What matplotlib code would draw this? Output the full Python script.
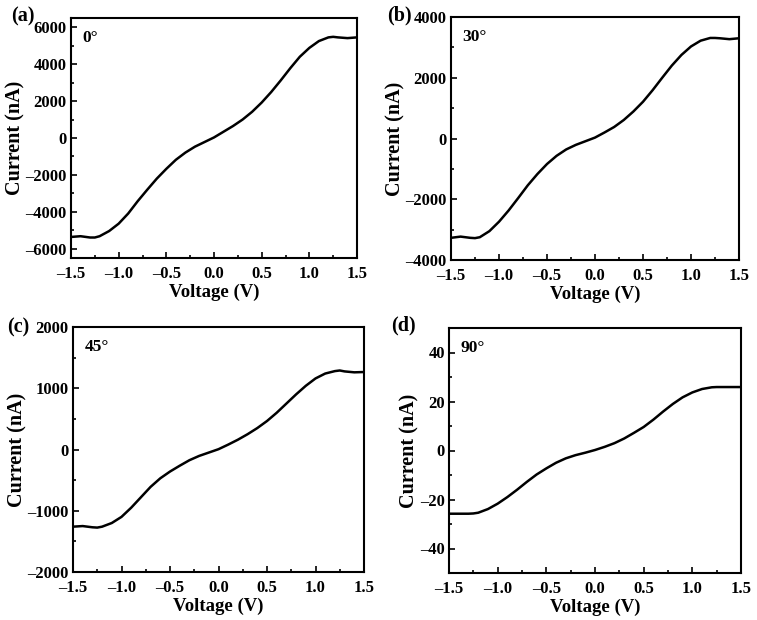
import matplotlib
matplotlib.use("Agg")
import matplotlib.pyplot as plt
from matplotlib.ticker import MultipleLocator, AutoMinorLocator, FuncFormatter

plt.rcParams['font.family'] = ['Liberation Serif', 'DejaVu Serif']
plt.rcParams['font.weight'] = 'bold'

# bias voltage (V)
voltage = [-1.5, -1.4, -1.3, -1.25, -1.2, -1.1, -1.0, -0.9, -0.8, -0.7, -0.6,
           -0.5, -0.4, -0.3, -0.2, -0.1, 0.0, 0.1, 0.2, 0.3, 0.4, 0.5, 0.6,
           0.7, 0.8, 0.9, 1.0, 1.1, 1.2, 1.25, 1.3, 1.4, 1.5]

# current (nA) for each angle
cur_0 = [-5360, -5320, -5390, -5390, -5320, -5040, -4640, -4090, -3420, -2800, -2200,
         -1670, -1180, -790, -470, -220, 30, 340, 650, 1000, 1420, 1920, 2490,
         3120, 3780, 4400, 4880, 5250, 5450, 5480, 5450, 5410, 5450]
cur_30 = [-3270, -3230, -3270, -3280, -3250, -3050, -2740, -2370, -1960, -1540, -1170,
          -840, -570, -360, -210, -90, 30, 200, 380, 610, 890, 1210, 1590,
          2000, 2400, 2750, 3030, 3220, 3310, 3310, 3300, 3270, 3300]
cur_45 = [-1260, -1250, -1270, -1275, -1260, -1200, -1100, -950, -780, -610, -470,
          -360, -265, -175, -105, -50, 5, 80, 160, 250, 350, 465, 600,
          750, 900, 1040, 1160, 1240, 1280, 1290, 1275, 1260, 1265]
cur_90 = [-25.8, -25.8, -25.8, -25.7, -25.4, -23.9, -21.7, -19.0, -16.0, -12.8, -9.8,
          -7.3, -5.0, -3.2, -1.9, -0.9, 0.2, 1.5, 3.0, 4.9, 7.2, 9.6, 12.6,
          15.9, 19.0, 21.7, 23.7, 25.1, 25.8, 25.9, 25.9, 25.9, 25.9]

panels = ['(a)', '(b)', '(c)', '(d)']
angles = ['0°', '30°', '45°', '90°']
series = [cur_0, cur_30, cur_45, cur_90]
ylims = [(-6500, 6500), (-4000, 4000), (-2000, 2000), (-50, 50)]
ysteps = [2000, 2000, 1000, 20]

# axes rectangles in pixels (left, top, right, bottom)
W, H = 757, 620
boxes = [(71, 18, 357, 258), (451, 17, 739, 260),
         (73, 327, 364, 572), (449, 328, 741, 573)]
label_pos = [(11, 16), (387, 15), (7, 327), (391, 325)]

xfmt = FuncFormatter(lambda v, p: f'{v:.1f}'.replace('-', '\u2013'))
yfmt = FuncFormatter(lambda v, p: f'{v:g}'.replace('-', '\u2013'))

fig = plt.figure(figsize=(W / 100, H / 100), dpi=100)

for i in range(4):
    l, t, r, b = boxes[i]
    ax = fig.add_axes([l / W, 1 - b / H, (r - l) / W, (b - t) / H])
    ax.plot(voltage, series[i], color='black', lw=1.8, solid_joinstyle='round')
    ax.set_xlim(-1.5, 1.5)
    ax.set_ylim(*ylims[i])
    ax.xaxis.set_major_locator(MultipleLocator(0.5))
    ax.xaxis.set_minor_locator(AutoMinorLocator(2))
    ax.yaxis.set_major_locator(MultipleLocator(ysteps[i]))
    ax.yaxis.set_minor_locator(AutoMinorLocator(2))
    ax.xaxis.set_major_formatter(xfmt)
    ax.yaxis.set_major_formatter(yfmt)
    ax.tick_params(which='both', direction='in', width=1.2, labelsize=12)
    ax.tick_params(axis='x', pad=6)
    ax.tick_params(axis='y', pad=3)
    ax.tick_params(which='major', length=4)
    ax.tick_params(which='minor', length=2)
    for sp in ax.spines.values():
        sp.set_linewidth(1.5)
    ax.set_xlabel('Voltage (V)', fontsize=13.5, fontweight='bold', labelpad=1)
    ax.set_ylabel('Current (nA)', fontsize=14.5, fontweight='bold', labelpad=0)
    ax.text(0.04, 0.95, angles[i], transform=ax.transAxes, fontsize=12.5,
            fontweight='bold', va='top', ha='left')
    px, py = label_pos[i]
    fig.text(px / W, 1 - py / H, panels[i], fontsize=14.5, fontweight='bold',
             va='center', ha='left')

fig.savefig('out.png', dpi=100)
